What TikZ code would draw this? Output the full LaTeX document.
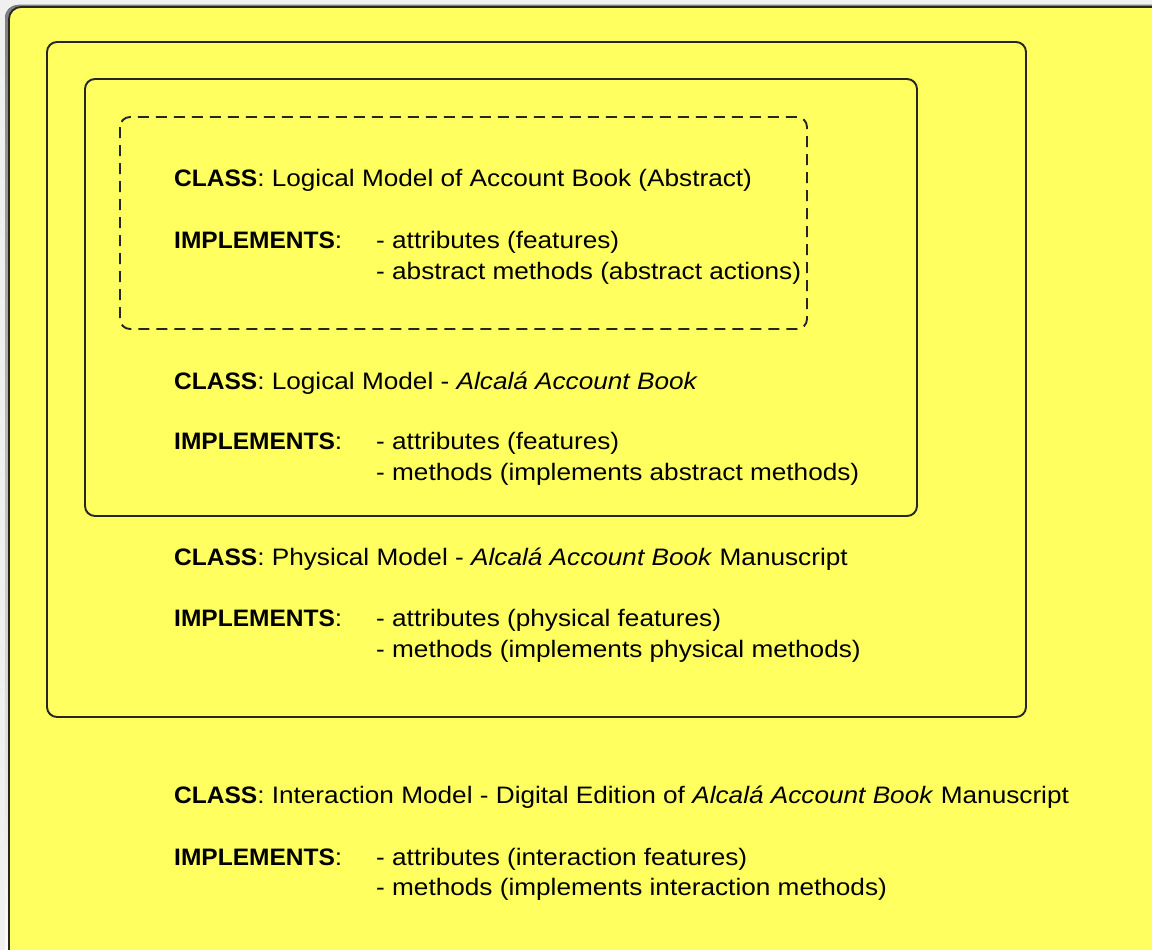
\documentclass[tikz,border=0pt]{standalone}
\usepackage{fontspec}
\setmainfont{Liberation Sans}[
  UprightFeatures={FakeStretch=1.1},
  ItalicFeatures={FakeStretch=1.1},
  BoldFeatures={FakeStretch=1.03}]
\definecolor{note}{RGB}{255,255,96}
\definecolor{bg}{RGB}{240,240,240}
\definecolor{shade}{RGB}{200,200,200}
\tikzset{
  frame/.style={draw=black!85, line width=1.9pt, rounded corners=10pt},
  dashframe/.style={frame, dash pattern=on 11pt off 7pt},
  txt/.style={anchor=base west, inner sep=0pt, font=\fontsize{23.8}{30.5}\selectfont},
}
\begin{document}
\begin{tikzpicture}[x=1pt,y=-1pt]
\useasboundingbox (0,0) rectangle (1152,950);
\fill[bg] (0,0) rectangle (1152,950);
\begin{scope}
\clip (0,0) rectangle (1152,950);
% shadow
\fill[shade, rounded corners=13pt] (5,5) rectangle (1175,975);
% outer note
\fill[note, draw=black!85, line width=1.8pt, rounded corners=12pt] (9,7) rectangle (1175,975);
\end{scope}
% nested frames
\draw[frame] (47,42) rectangle (1026,717);
\draw[frame] (85,79) rectangle (917,516);
\draw[dashframe] (120,117) rectangle (807,329);

% block 1
\node[txt] (c1) at (174,186) {\textbf{CLASS}: Logical Model of Account Book (Abstract)};
\node[txt] (i1) at (174,248) {\textbf{IMPLEMENTS}:};
\node[txt] (l1a) at (376,248) {- attributes (features)};
\node[txt] (l1b) at (376,279) {- abstract methods (abstract actions)};
% block 2
\node[txt] (c2) at (174,389) {\textbf{CLASS}: Logical Model - \textit{Alcalá Account Book}};
\node[txt] (i2) at (174,449) {\textbf{IMPLEMENTS}:};
\node[txt] (l2a) at (376,449) {- attributes (features)};
\node[txt] (l2b) at (376,480) {- methods (implements abstract methods)};
% block 3
\node[txt] (c3) at (174,565) {\textbf{CLASS}: Physical Model - \textit{Alcalá Account Book} Manuscript};
\node[txt] (i3) at (174,626) {\textbf{IMPLEMENTS}:};
\node[txt] (l3a) at (376,626) {- attributes (physical features)};
\node[txt] (l3b) at (376,657) {- methods (implements physical methods)};
% block 4
\node[txt] (c4) at (174,803) {\textbf{CLASS}: Interaction Model - Digital Edition of \textit{Alcalá Account Book} Manuscript};
\node[txt] (i4) at (174,865) {\textbf{IMPLEMENTS}:};
\node[txt] (l4a) at (376,865) {- attributes (interaction features)};
\node[txt] (l4b) at (376,895) {- methods (implements interaction methods)};
\end{tikzpicture}
\end{document}
